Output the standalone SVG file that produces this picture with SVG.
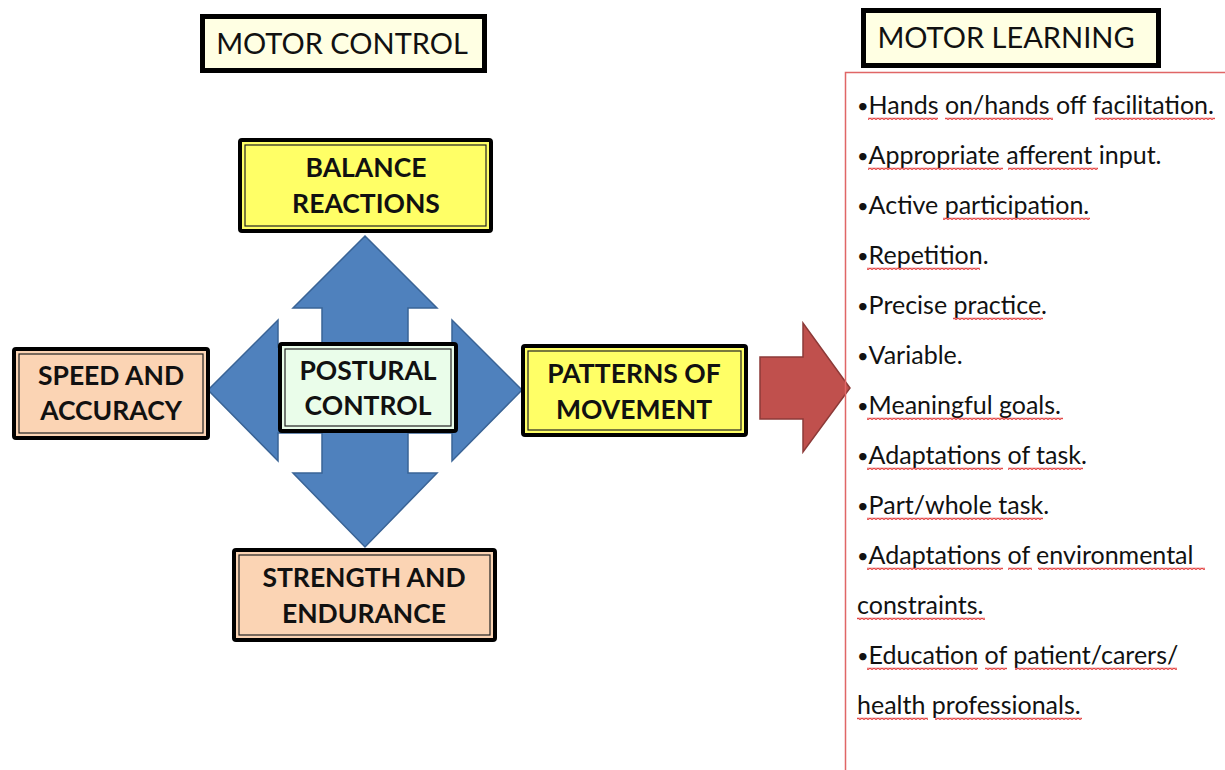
<svg xmlns="http://www.w3.org/2000/svg" width="1225" height="770" viewBox="0 0 1225 770">
  <defs>
    <style>
      .hdr { fill: #FFFFE3; stroke: #000; stroke-width: 5; }
      .hdr-t { font-family: "Lato", "Liberation Sans", sans-serif; font-size: 29px; fill: #111; }
      .outer { stroke: #000; stroke-width: 4; }
      .inner { fill: none; stroke: #222; stroke-width: 1.2; }
      .yellow { fill: #FFFF66; }
      .peach { fill: #FBD4B4; }
      .mint { fill: #EAFDEA; }
      .lbl { font-family: "Lato", "Liberation Sans", sans-serif; font-size: 26.5px; font-weight: bold; fill: #111; text-anchor: middle; }
      .item { font-family: "Lato", "Liberation Sans", sans-serif; font-size: 25px; fill: #111; }
      .b { font-size: 20px; }
      .sq { fill: url(#squiggle); }
    </style>
    <!-- red wavy spell-check underline -->
    <pattern id="squiggle" patternUnits="userSpaceOnUse" width="4" height="2.5">
      <path d="M0,2 L2,0.5 L4,2" fill="none" stroke="#E02828" stroke-width="1.1"/>
    </pattern>
  </defs>

  <rect width="1225" height="770" fill="#FFFFFF"/>

  <!-- connectors: four-way blue arrow and red block arrow -->
  <g id="connectors">
    <polygon fill="#4F81BD" stroke="#3A6496" stroke-width="1.5" stroke-linejoin="miter"
      points="365,236 437,308 408,308 408,347 452,347 452,320 522,390 452,461 452,433 408,433 408,473 437,473 365,547 293,473 322,473 322,433 278,433 278,461 208,390 278,320 278,347 322,347 322,308 293,308"/>
    <polygon fill="#C0504D" stroke="#8C3A38" stroke-width="1.5"
      points="760,357 803,357 803,323 850,388 803,452 803,419 760,419"/>
  </g>

  <!-- section headers -->
  <g id="motor-control">
    <rect class="hdr" x="202.5" y="16.5" width="282" height="54"/>
    <text class="hdr-t" x="342" y="54" text-anchor="middle">MOTOR CONTROL</text>
  </g>
  <g id="motor-learning">
    <rect class="hdr" x="863.5" y="10.5" width="295" height="55"/>
    <text class="hdr-t" x="1006" y="48" text-anchor="middle">MOTOR LEARNING</text>
  </g>

  <!-- diagram nodes -->
  <g id="balance-reactions">
    <rect class="outer yellow" x="240" y="140" width="251" height="91" rx="2"/>
    <rect class="inner" x="245" y="145" width="241" height="81"/>
    <text class="lbl" x="366" y="177">BALANCE</text>
    <text class="lbl" x="366" y="213">REACTIONS</text>
  </g>

  <g id="speed-accuracy">
    <rect class="outer peach" x="14" y="349" width="194" height="89" rx="2"/>
    <rect class="inner" x="19" y="354" width="184" height="79"/>
    <text class="lbl" x="111" y="385">SPEED AND</text>
    <text class="lbl" x="111" y="420">ACCURACY</text>
  </g>

  <g id="postural-control">
    <rect class="outer mint" x="280" y="344" width="176" height="87" rx="2"/>
    <rect class="inner" x="285" y="349" width="166" height="77"/>
    <text class="lbl" x="368" y="380">POSTURAL</text>
    <text class="lbl" x="368" y="415">CONTROL</text>
  </g>

  <g id="patterns-of-movement">
    <rect class="outer yellow" x="523" y="346" width="223" height="89" rx="2"/>
    <rect class="inner" x="528" y="351" width="213" height="79"/>
    <text class="lbl" x="634" y="383">PATTERNS OF</text>
    <text class="lbl" x="634" y="419">MOVEMENT</text>
  </g>

  <g id="strength-endurance">
    <rect class="outer peach" x="234" y="550" width="261" height="90" rx="2"/>
    <rect class="inner" x="239" y="555" width="251" height="80"/>
    <text class="lbl" x="364" y="587">STRENGTH AND</text>
    <text class="lbl" x="364" y="623">ENDURANCE</text>
  </g>

  <!-- motor learning list panel -->
  <g id="learning-list">
    <path d="M845.5,770 V72.5 H1225" fill="none" stroke="#E06666" stroke-width="1.5"/>
    <g class="items">
      <text class="item" x="857" y="114"><tspan class="b" dy="-1">•</tspan><tspan dy="1">Hands on/hands off facilitation.</tspan></text>
      <text class="item" x="857" y="164"><tspan class="b" dy="-1">•</tspan><tspan dy="1">Appropriate afferent input.</tspan></text>
      <text class="item" x="857" y="214"><tspan class="b" dy="-1">•</tspan><tspan dy="1">Active participation.</tspan></text>
      <text class="item" x="857" y="264"><tspan class="b" dy="-1">•</tspan><tspan dy="1">Repetition.</tspan></text>
      <text class="item" x="857" y="314"><tspan class="b" dy="-1">•</tspan><tspan dy="1">Precise practice.</tspan></text>
      <text class="item" x="857" y="364"><tspan class="b" dy="-1">•</tspan><tspan dy="1">Variable.</tspan></text>
      <text class="item" x="857" y="414"><tspan class="b" dy="-1">•</tspan><tspan dy="1">Meaningful goals.</tspan></text>
      <text class="item" x="857" y="464"><tspan class="b" dy="-1">•</tspan><tspan dy="1">Adaptations of task.</tspan></text>
      <text class="item" x="857" y="514"><tspan class="b" dy="-1">•</tspan><tspan dy="1">Part/whole task.</tspan></text>
      <text class="item" x="857" y="564"><tspan class="b" dy="-1">•</tspan><tspan dy="1">Adaptations of environmental</tspan></text>
      <text class="item" x="857" y="614">constraints.</text>
      <text class="item" x="857" y="664"><tspan class="b" dy="-1">•</tspan><tspan dy="1">Education of patient/carers/</tspan></text>
      <text class="item" x="857" y="714">health professionals.</text>
    </g>
    <g class="squiggles">
      <rect class="sq" x="868" y="117.5" width="70" height="2.5"/>
      <rect class="sq" x="945" y="117.5" width="108" height="2.5"/>
      <rect class="sq" x="1095" y="117.5" width="120" height="2.5"/>
      <rect class="sq" x="868" y="167.5" width="135" height="2.5"/>
      <rect class="sq" x="1008" y="167.5" width="90" height="2.5"/>
      <rect class="sq" x="943" y="217.5" width="147" height="2.5"/>
      <rect class="sq" x="867" y="267.5" width="113" height="2.5"/>
      <rect class="sq" x="953" y="317.5" width="90" height="2.5"/>
      <rect class="sq" x="867" y="417.5" width="196" height="2.5"/>
      <rect class="sq" x="867" y="467.5" width="136" height="2.5"/>
      <rect class="sq" x="1008" y="467.5" width="75" height="2.5"/>
      <rect class="sq" x="867" y="517.5" width="176" height="2.5"/>
      <rect class="sq" x="867" y="567.5" width="136" height="2.5"/>
      <rect class="sq" x="1008" y="567.5" width="24" height="2.5"/>
      <rect class="sq" x="1038" y="567.5" width="167" height="2.5"/>
      <rect class="sq" x="857" y="617.5" width="128" height="2.5"/>
      <rect class="sq" x="867" y="667.5" width="111" height="2.5"/>
      <rect class="sq" x="985" y="667.5" width="22" height="2.5"/>
      <rect class="sq" x="1015" y="667.5" width="162" height="2.5"/>
      <rect class="sq" x="857" y="717.5" width="71" height="2.5"/>
      <rect class="sq" x="935" y="717.5" width="147" height="2.5"/>
    </g>
  </g>
</svg>
